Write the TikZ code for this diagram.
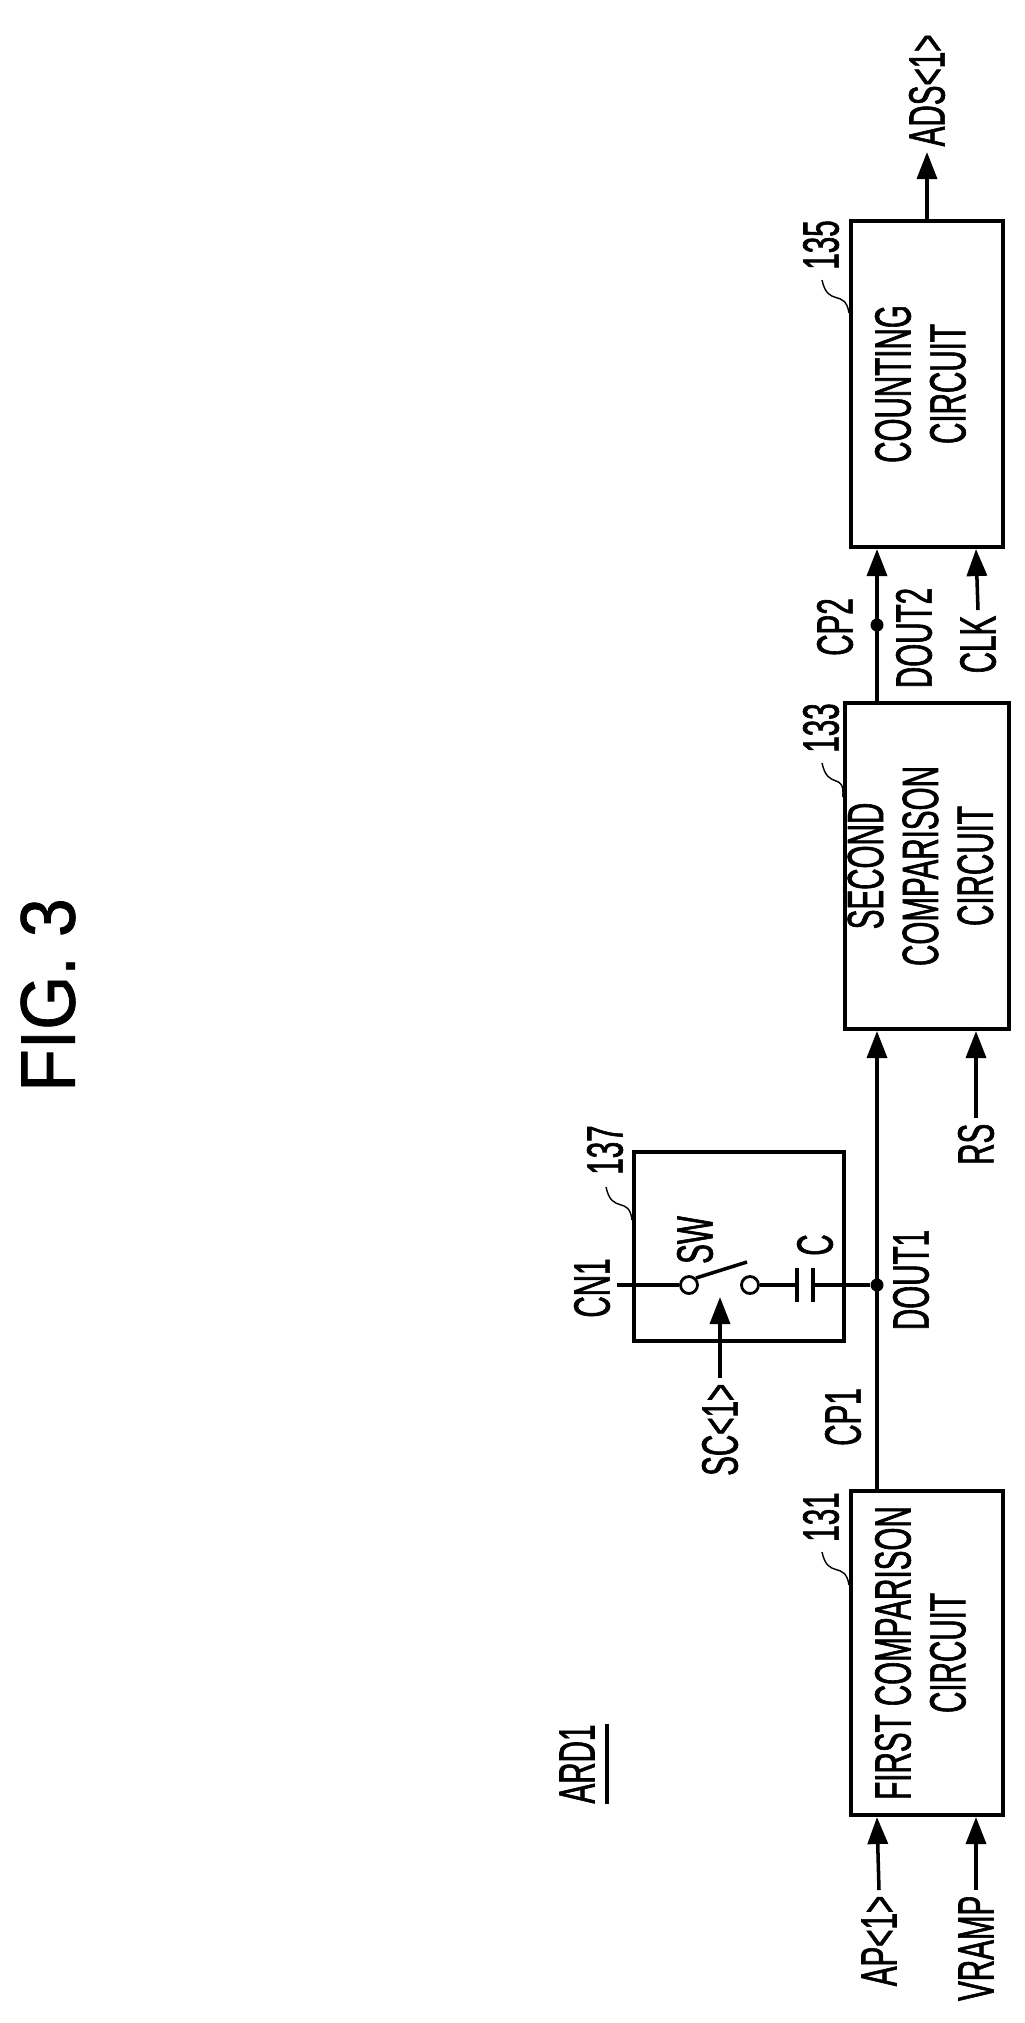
\documentclass[tikz,border=0pt]{standalone}
\usepackage{fontspec}
\setmainfont{Liberation Sans}[FakeStretch=0.58, FakeBold=1.2]
\newfontfamily\figfont{Liberation Sans}[FakeStretch=0.9, FakeBold=1]
\usetikzlibrary{arrows.meta, positioning}

\tikzset{
    block/.style={draw, line width=1.1pt, inner sep=0pt, font=\fontsize{14.5}{15.6}\selectfont},
    lbl/.style={rotate=90, inner sep=0.05cm, font=\fontsize{14.5}{15.6}\selectfont},
    sig/.style={line width=1pt, -{Triangle[length=0.27cm, width=0.2cm]}},
    wire/.style={line width=1pt},
    lead/.style={line width=0.4pt},
    dot/.style={circle, fill, inner sep=0pt, minimum size=0.13cm},
    pin/.style={circle, draw, line width=0.8pt, inner sep=0pt, minimum size=0.17cm}
}
\newcommand{\vtext}[1]{\rotatebox{90}{\begin{tabular}{@{}c@{}}#1\end{tabular}}}

\begin{document}
\begin{tikzpicture}[x=0.01cm, y=-0.01cm]
    \useasboundingbox (0,0) rectangle (1025,2023);

    % Title and reference
    \node[rotate=90, font=\figfont\fontsize{22}{26}\selectfont] (fig) at (48,995) {FIG. 3};
    \node[lbl, inner sep=0pt] (ard) at (577,1764) {ARD1};
    \draw[wire] ([xshift=0.12cm]ard.south west) -- ([xshift=0.12cm]ard.south east);

    % Blocks
    \node[block, minimum width=1.52cm, minimum height=3.24cm] (b131) at (927,1653) {\vtext{FIRST COMPARISON\\CIRCUIT}};
    \node[block, minimum width=1.52cm, minimum height=3.26cm] (b133) at (927,866) {\vtext{SECOND\\COMPARISON\\CIRCUIT}};
    \node[block, minimum width=1.52cm, minimum height=3.26cm] (b135) at (927,384) {\vtext{COUNTING\\CIRCUIT}};
    \node[block, minimum width=2.10cm, minimum height=1.89cm] (b137) at (739,1246.5) {};

    % Reference numerals
    \node[lbl] (n131) at (821,1517) {131};
    \node[lbl] (n133) at (821,728) {133};
    \node[lbl] (n135) at (821,245) {135};
    \node[lbl] (n137) at (605,1150) {137};
    \draw[lead] (822,1552) .. controls (828,1580) and (845,1560) .. (b131.west |- 0,1585);
    \draw[lead] (822,763) .. controls (828,791) and (845,771) .. (b133.west |- 0,797);
    \draw[lead] (822,280) .. controls (828,308) and (845,288) .. (b135.west |- 0,313);
    \draw[lead] (606,1187) .. controls (612,1215) and (629,1195) .. (b137.west |- 0,1220);

    % Wire columns
    \coordinate (wa) at (877,0);
    \coordinate (wb) at (976,0);
    \coordinate (wo) at (927,0);

    % Inputs of the first comparison circuit
    \node[lbl, anchor=east] (ap) at (879,1890) {AP<1>};
    \node[lbl, anchor=east] (vramp) at (976,1890) {VRAMP};
    \draw[sig] (ap.east) -- (b131.south -| wa);
    \draw[sig] (vramp.east) -- (b131.south -| wb);

    % First to second comparison circuit
    \node[dot] (d1) at (877,1285) {};
    \draw[sig] (b131.north -| wa) -- (b133.south -| wa);
    \node[lbl] (cp1) at (843,1417) {CP1};
    \node[lbl] (dout1) at (911,1280) {DOUT1};
    \node[lbl, anchor=east] (rs) at (976,1118) {RS};
    \draw[sig] (rs.east) -- (b133.south -| wb);

    % Second comparison to counting circuit
    \node[dot] (d2) at (877,625) {};
    \draw[sig] (b133.north -| wa) -- (b135.south -| wa);
    \node[lbl] (cp2) at (835,627) {CP2};
    \node[lbl] (dout2) at (914,638) {DOUT2};
    \node[lbl, anchor=east] (clk) at (978,610) {CLK};
    \draw[sig] (clk.east) -- (b135.south -| wb);

    % Output
    \node[lbl, anchor=west] (ads) at (927,152) {ADS<1>};
    \draw[sig] (b135.north -| wo) -- (ads.west);

    % Switch and capacitor
    \node[lbl] (cn1) at (592,1288) {CN1};
    \node[pin] (s1) at (689,1285) {};
    \node[pin] (s2) at (750,1285) {};
    \coordinate (p1) at (797,1285);
    \coordinate (p2) at (813,1285);
    \draw[wire] (617,1285) -- (s1.west);
    \draw[wire] (s1.north east) -- (747,1262);
    \draw[wire] (s2.east) -- (p1);
    \draw[wire] (p1 |- 0,1268) -- (p1 |- 0,1302);
    \draw[wire] (p2 |- 0,1268) -- (p2 |- 0,1302);
    \draw[wire] (p2) -- (d1);
    \node[lbl] (sw) at (695,1240) {SW};
    \node[lbl] (cap) at (815,1245) {C};
    \node[lbl, anchor=east] (sc) at (720,1378) {SC<1>};
    \coordinate (swc) at (720,1297);
    \draw[sig] (sc.east) -- (swc);
\end{tikzpicture}
\end{document}
